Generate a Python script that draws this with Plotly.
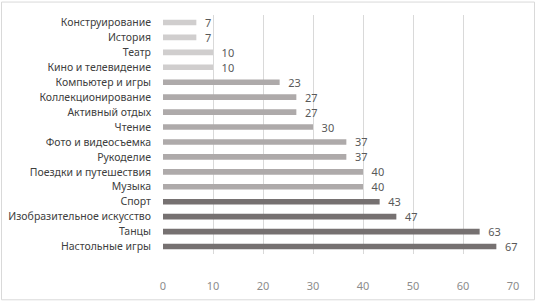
import plotly.graph_objects as go

categories = ["Конструирование", "История", "Театр", "Кино и телевидение",
              "Компьютер и игры", "Коллекционирование", "Активный отдых", "Чтение",
              "Фото и видеосъемка", "Рукоделие", "Поездки и путешествия", "Музыка",
              "Спорт", "Изобразительное искусство", "Танцы", "Настольные игры"]
values = [6.67, 6.67, 10, 10, 23.33, 26.67, 26.67, 30,
          36.67, 36.67, 40, 40, 43.33, 46.67, 63.33, 66.67]
groups = ["light"] * 4 + ["mid"] * 8 + ["dark"] * 4
group_colors = {"light": "#D0CECE", "mid": "#AEAAAA", "dark": "#767171"}
x_ticks = [0, 10, 20, 30, 40, 50, 60, 70]

colors = [group_colors[g] for g in groups]
labels = ["   %d" % round(v) for v in values]

fig = go.Figure(go.Bar(
    x=values, y=categories, orientation="h",
    marker=dict(color=colors, line=dict(width=0)),
    width=0.38,
    text=labels, textposition="outside", cliponaxis=False, constraintext="none",
    textfont=dict(family="Noto Sans", size=11, color="#595959"),
    hoverinfo="skip",
))

W, H = 536, 302
ml, mr, mt, mb = 163, 23, 14.5, 47.5
pw, ph = W - ml - mr, H - mt - mb

fig.update_layout(
    width=W, height=H,
    margin=dict(l=ml, r=mr, t=mt, b=mb, pad=0),
    paper_bgcolor="white", plot_bgcolor="white",
    showlegend=False,
    font=dict(family="Noto Sans", color="#595959"),
    xaxis=dict(range=[0, 70], tickvals=x_ticks, showgrid=True, gridcolor="#D9D9D9",
               gridwidth=1, zeroline=False, showline=False, ticks="",
               tickfont=dict(size=11, color="#8C8C8C"), ticklabelstandoff=24,
               automargin=False, fixedrange=True),
    yaxis=dict(autorange="reversed", showgrid=False, zeroline=False, showline=False,
               ticks="", tickfont=dict(size=10.5, color="#404040"), ticklabelstandoff=11,
               automargin=False, fixedrange=True),
    shapes=[dict(type="rect", xref="paper", yref="paper",
                 x0=(1.5 - ml) / pw, x1=(W - 1.5 - ml) / pw,
                 y0=(mt + ph - (H - 1.5)) / ph, y1=(mt + ph - 1.5) / ph,
                 line=dict(color="#D9D9D9", width=1), fillcolor="rgba(0,0,0,0)",
                 layer="below")],
)

fig.write_html("out.html", config={"displayModeBar": False, "staticPlot": True},
               post_script="document.body.style.margin='0';document.body.style.overflow='hidden';")
